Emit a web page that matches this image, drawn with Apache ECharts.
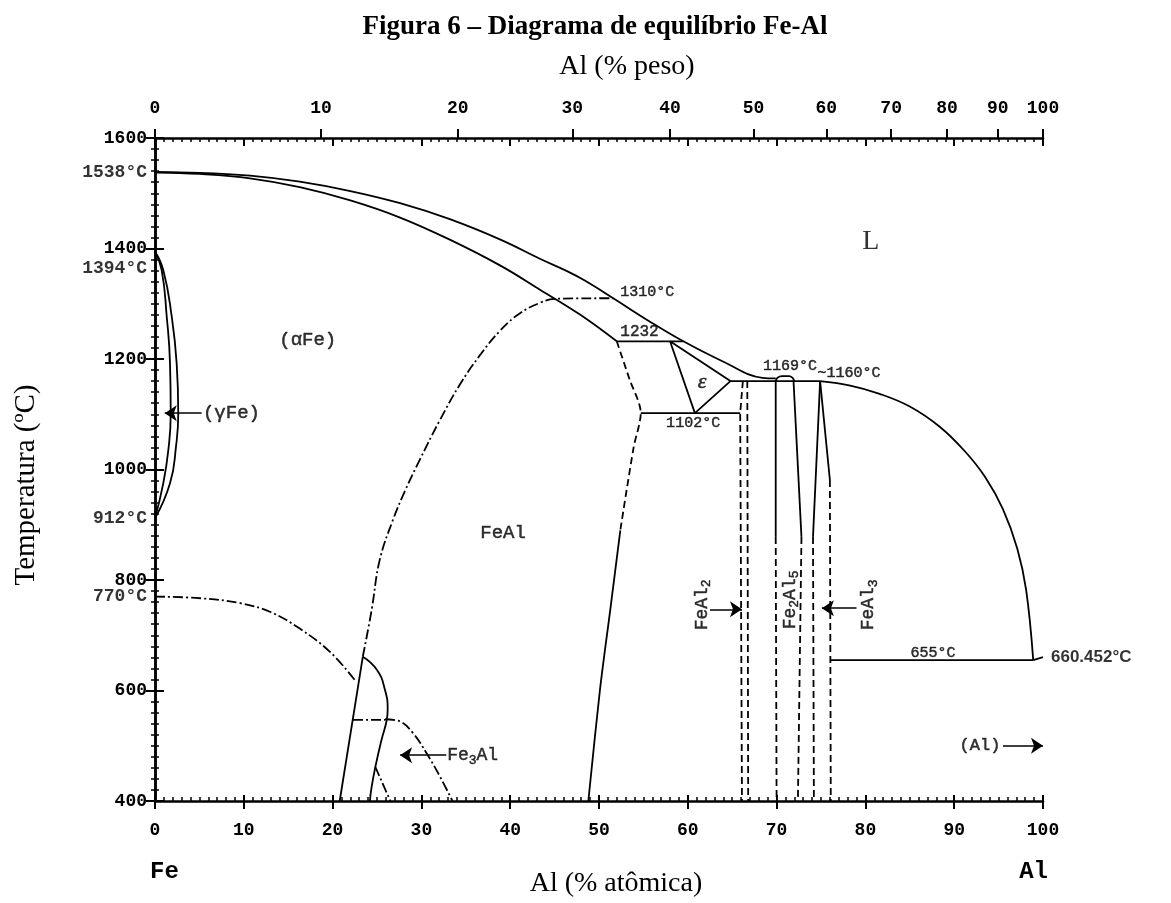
<!DOCTYPE html>
<html><head><meta charset="utf-8">
<script src="https://cdn.jsdelivr.net/npm/echarts@6/dist/echarts.min.js"></script>
<style>html,body{margin:0;padding:0;background:#fff}#c{width:1171px;height:903px}</style>
</head><body><div id="c"></div>
<script>
// ---------- data (Al atomic %, Temperature °C) ----------
const atomicTicks = [0,10,20,30,40,50,60,70,80,90,100];
const tempTicks = [400,600,800,1000,1200,1400,1600];
const weightLabels = ['0','10','20','30','40','50','60','70','80','90','100'];
const weightAtAtomic = [0,18.7,34.1,47.0,58.0,67.4,75.6,82.9,89.2,94.9,100];

const liquidusFe = [[0,1538],[5,1537],[10.7,1532],[16.3,1521],[22.0,1504],[27.6,1482],[33.2,1453],[38.9,1416],[43.4,1381],[46.4,1359],[48.4,1342],[51.6,1310],[55.7,1268],[59.5,1232],[63.9,1196],[68.4,1166],[69.9,1165]];
const solidusFe = [[0,1538],[5,1535],[10.7,1527],[16.3,1511],[22.0,1487],[27.6,1456],[33.2,1416],[38.9,1369],[43.4,1325],[47.9,1280],[52.0,1232]];
const peritectic1232 = [[52.0,1232],[59.5,1232]];
const epsilonTriangle = [[58.0,1232],[60.8,1102],[64.8,1160],[58.0,1232]];
const eutectoid1102 = [[54.7,1102],[65.9,1102]];
const line1160 = [[64.8,1160],[74.9,1160]];
const fe2al5Dome = [[69.9,1160],[70.1,1166],[70.6,1169],[71.4,1169],[71.8,1166],[72.0,1160]];
const liquidusAl = [[74.9,1160],[78.3,1152],[81.6,1137],[85.0,1114],[88.4,1077],[91.2,1033],[93.5,986],[95.5,928],[97.1,857],[98.1,782],[98.9,655],[100,660.452]];
const eutectic655 = [[76.1,655],[98.9,655]];
const feAlDashed = [[52.0,1232],[53.4,1165],[54.7,1102],[53.9,1040],[52.4,890]];
const feAlSolid = [[52.4,890],[51.3,750],[50.1,600],[48.8,400]];
const feAl2Left = [[66.2,1160],[65.9,1102],[66.1,400]];
const feAl2Right = [[66.7,1160],[66.8,400]];
const fe2al5LeftSolid = [[69.9,1162],[69.9,878]];
const fe2al5LeftDashed = [[69.9,878],[70.0,400]];
const fe2al5RightSolid = [[71.9,1162],[72.8,878]];
const fe2al5RightDashed = [[72.8,878],[72.4,400]];
const feAl3LeftSolid = [[74.9,1160],[74.1,878]];
const feAl3LeftDashed = [[74.1,878],[74.2,400]];
const feAl3RightSolid = [[74.9,1160],[76.0,981]];
const feAl3RightDashed = [[76.0,981],[76.1,400]];
const gammaOuter = [[0,1394],[0.93,1361],[1.88,1277],[2.44,1192],[2.62,1102],[2.36,1041],[1.69,975],[0,912]];
const gammaInner = [[0,1394],[0.75,1361],[1.32,1277],[1.69,1192],[1.77,1102],[1.50,1035],[0.93,975],[0,912]];
const orderA2B2 = [[23.4,661],[24.4,746],[25.3,836],[26.8,909],[28.2,963],[29.8,1017],[32.1,1090],[34.3,1153],[36.6,1207],[38.9,1252],[41.1,1283],[43.4,1302],[45.0,1309],[51.6,1310]];
const curie770 = [[0,770],[5.1,767],[9.6,758],[13.0,742],[16.3,712],[19.7,670],[22.5,619]];
const fe3alLeft = [[23.4,661],[20.8,400]];
const fe3alRight = [[23.4,661],[25.0,637],[25.9,601],[26.2,565],[26.1,547],[25.5,510],[24.9,468],[24.4,426],[24.2,400]];
const fe3alOrder547 = [[22.3,547],[25.9,547]];
const fe3alOrderCurve = [[25.9,548],[27.6,544],[29.1,522],[30.6,486],[32.1,444],[33.5,400]];
const fe3alOrderLow = [[24.8,462],[26.5,400]];
const arrows = [
  [[5.25,1102],[1.1,1102]],
  [[32.8,483],[27.6,483]],
  [[95.5,500],[100,500]],
  [[62.5,747],[66.1,747]],
  [[79.0,749],[75.1,749]]
];
const axisMarks = [
  {text:'1538°C', at:[0,1538]},
  {text:'1394°C', at:[0,1394]},
  {text:'912°C', at:[0,912]},
  {text:'770°C', at:[0,770]}
];

// ---------- chart ----------
const MONO = '"Liberation Mono", "DejaVu Sans Mono", monospace';
const SERIF = '"Liberation Serif", "DejaVu Serif", serif';
const black = '#000';
const LW = 1.8;
function curve(data, type, smooth) {
  return {
    type: 'line', data: data, showSymbol: false, symbol: 'none', clip: false,
    smooth: smooth || false,
    lineStyle: {color: black, width: LW, type: type || 'solid'},
    silent: true, z: 3
  };
}
const DASH = [7,4];
const DASHDOT = [10,3,2,3];

const series = [
  curve(liquidusFe, 'solid', 0.4),
  curve(solidusFe, 'solid', 0.4),
  curve(peritectic1232),
  curve(epsilonTriangle),
  curve(eutectoid1102),
  curve(line1160),
  curve(fe2al5Dome, 'solid', 0.4),
  curve(liquidusAl.slice(0, 11), 'solid', 0.4),
  curve(liquidusAl.slice(10)),
  curve(eutectic655),
  curve(feAlDashed, DASH, 0.3),
  curve(feAlSolid, 'solid', 0.3),
  curve(feAl2Left, DASH),
  curve(feAl2Right, DASH),
  curve(fe2al5LeftSolid),
  curve(fe2al5LeftDashed, DASH),
  curve(fe2al5RightSolid),
  curve(fe2al5RightDashed, DASH),
  curve(feAl3LeftSolid),
  curve(feAl3LeftDashed, DASH),
  curve(feAl3RightSolid),
  curve(feAl3RightDashed, DASH),
  curve(gammaOuter, 'solid', 0.5),
  curve(gammaInner, 'solid', 0.5),
  curve(orderA2B2, DASHDOT, 0.4),
  curve(curie770, DASHDOT, 0.4),
  curve(fe3alLeft),
  curve(fe3alRight, 'solid', 0.5),
  curve(fe3alOrder547, DASHDOT),
  curve(fe3alOrderCurve, DASHDOT, 0.4),
  curve(fe3alOrderLow, DASHDOT),
  {
    type: 'lines', coordinateSystem: 'cartesian2d', silent: true, z: 4,
    symbol: ['none', 'arrow'], symbolSize: [0, 12],
    lineStyle: {color: black, width: 1.6, opacity: 1},
    data: arrows.map(a => ({coords: a}))
  }
];

const annStyle = {color: black, fontFamily: MONO, fontSize: 17, textBorderColor: black, textBorderWidth: 0.5};
function ann(text, at, extra) {
  return {
    value: at,
    label: Object.assign({show: true, formatter: text, position: 'inside', align: 'center', verticalAlign: 'middle'}, annStyle, extra || {})
  };
}
const sub = {fontFamily: MONO, fontSize: 13, color: black, textBorderColor: black, textBorderWidth: 0.5, padding: [10, 0, 0, 0]};
const base = {fontFamily: MONO, fontSize: 18, color: black, textBorderColor: black, textBorderWidth: 0.5};
const annotations = [
  ann('1310°C', [52.4,1321], {align: 'left', fontSize: 15}),
  ann('1232', [52.4,1249], {align: 'left', fontSize: 16}),
  ann('ε', [61.6,1158], {fontFamily: SERIF, fontStyle: 'italic', fontSize: 22}),
  ann('1102°C', [60.6,1084], {fontSize: 15}),
  ann('1169°C', [71.5,1187], {fontSize: 15}),
  ann('~1160°C', [74.6,1175], {align: 'left', fontSize: 15}),
  ann('655°C', [87.6,668], {fontSize: 15}),
  ann('L', [80.6,1412], {fontFamily: SERIF, fontSize: 28, textBorderWidth: 0}),
  ann('(αFe)', [17.2,1234], {fontSize: 19}),
  ann('FeAl', [39.2,885], {fontSize: 19}),
  ann('(γFe)', [5.4,1102], {align: 'left', fontSize: 19}),
  ann('{b|Fe}{s|3}{b|Al}', [32.9,483], {align: 'left', rich: {b: base, s: sub}}),
  ann('(Al)', [95.2,500], {align: 'right', fontSize: 17}),
  ann('{b|FeAl}{s|2}', [61.6,755], {rotate: 90, rich: {b: base, s: sub}}),
  ann('{b|Fe}{s|2}{b|Al}{s|5}', [71.5,764], {rotate: 90, rich: {b: base, s: sub}}),
  ann('{b|FeAl}{s|3}', [80.3,755], {rotate: 90, rich: {b: base, s: sub}})
];
annotations.push(ann('660.452°C', [100,660.452], {align: 'left', fontFamily: '"Liberation Sans", Arial, sans-serif', fontWeight: 'bold', fontSize: 17, textBorderWidth: 0, offset: [8, 0]}));
axisMarks.forEach(m => {
  annotations.push(ann(m.text, m.at, {align: 'right', fontWeight: 'bold', fontSize: 18, textBorderWidth: 0, offset: [-8, m.text === '1394°C' ? 17 : 0]}));
});
series.push({type: 'scatter', symbolSize: 0, silent: true, z: 5, data: annotations, clip: false});

const axLine = {show: true, lineStyle: {color: black, width: 2.5}};
const tickLabel = {color: black, fontFamily: MONO, fontWeight: 'bold', fontSize: 18};

const option = {
  animation: false,
  backgroundColor: '#fff',
  grid: {left: 155, right: 128, top: 138, bottom: 102, containLabel: false},
  xAxis: [
    {type: 'value', position: 'bottom', min: 0, max: 100, interval: 10,
     axisLine: axLine, splitLine: {show: false},
     axisTick: {show: true, length: 8, lineStyle: {color: black, width: 2}},
     axisLabel: Object.assign({margin: 20, formatter: v => String(v)}, tickLabel)},
    {type: 'value', position: 'bottom', min: 0, max: 100, interval: 10,
     axisLine: {show: false}, splitLine: {show: false}, axisLabel: {show: false},
     axisTick: {show: true, inside: true, length: 6, lineStyle: {color: black, width: 2}},
     minorTick: {show: true, splitNumber: 10, length: 4, lineStyle: {color: black, width: 1.5}}},
    {type: 'value', position: 'top', min: 0, max: 100, interval: 10,
     axisLine: axLine, splitLine: {show: false}, axisLabel: {show: false},
     axisTick: {show: true, inside: true, length: 8, lineStyle: {color: black, width: 2}},
     minorTick: {show: true, splitNumber: 10, length: 4, lineStyle: {color: black, width: 1.5}}},
    {type: 'value', position: 'top', min: 0, max: 100,
     axisLine: {show: false}, splitLine: {show: false},
     axisTick: {show: true, length: 9, customValues: weightAtAtomic, lineStyle: {color: black, width: 2}},
     axisLabel: Object.assign({margin: 21, customValues: weightAtAtomic,
       formatter: v => { const i = weightAtAtomic.indexOf(v); return i >= 0 ? weightLabels[i] : ''; }}, tickLabel)}
  ],
  yAxis: [
    {type: 'value', position: 'left', min: 400, max: 1600, interval: 200,
     axisLine: axLine, splitLine: {show: false},
     axisTick: {show: true, length: 9, lineStyle: {color: black, width: 2}},
     minorTick: {show: true, splitNumber: 10, length: 4, lineStyle: {color: black, width: 1.5}},
     axisLabel: Object.assign({margin: 8, formatter: v => String(v)}, tickLabel)},
    {type: 'value', position: 'right', min: 400, max: 1600, interval: 200,
     axisLine: axLine, splitLine: {show: false}, axisLabel: {show: false},
     axisTick: {show: true, length: 9, lineStyle: {color: black, width: 2}},
     minorTick: {show: true, splitNumber: 10, length: 4, lineStyle: {color: black, width: 1.5}}}
  ],
  graphic: [
    {type: 'text', x: 595, y: 27, style: {text: 'Figura 6 – Diagrama de equilíbrio Fe-Al', font: 'bold 27px "Liberation Serif", serif', fill: black, align: 'center', verticalAlign: 'middle'}},
    {type: 'text', x: 627, y: 67, style: {text: 'Al (% peso)', font: '28px "Liberation Serif", serif', fill: black, align: 'center', verticalAlign: 'middle'}},
    {type: 'text', x: 616, y: 884, style: {text: 'Al (% atômica)', font: '28px "Liberation Serif", serif', fill: black, align: 'center', verticalAlign: 'middle'}},
    {type: 'text', x: 26, y: 485, rotation: Math.PI / 2, style: {text: 'Temperatura (ºC)', font: '29px "Liberation Serif", serif', fill: black, align: 'center', verticalAlign: 'middle'}},
    {type: 'text', x: 150, y: 872, style: {text: 'Fe', font: 'bold 24px ' + MONO, fill: black, align: 'left', verticalAlign: 'middle'}},
    {type: 'text', x: 1048, y: 872, style: {text: 'Al', font: 'bold 24px ' + MONO, fill: black, align: 'right', verticalAlign: 'middle'}}
  ],
  series: series
};
echarts.init(document.getElementById('c'), null, {renderer: 'canvas'}).setOption(option);
</script>
</body></html>
